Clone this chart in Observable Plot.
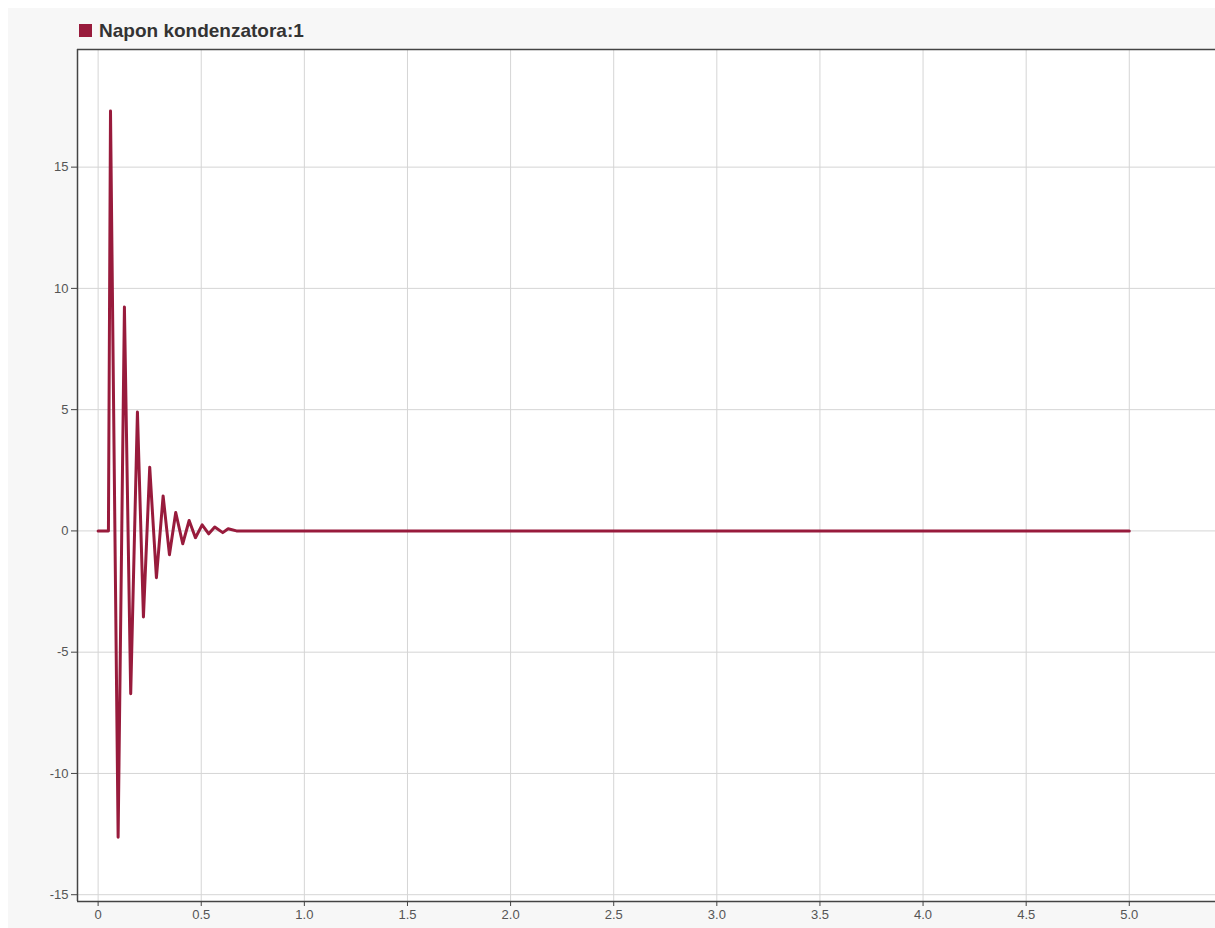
<!DOCTYPE html>
<html>
<head>
<meta charset="utf-8">
<script src="https://cdn.jsdelivr.net/npm/d3@7"></script>
<script src="https://cdn.jsdelivr.net/npm/@observablehq/plot@0.6"></script>
<style>
  html, body { margin: 0; padding: 0; background: #ffffff; overflow: hidden; }
  #wrap { position: relative; width: 1215px; height: 928px; }
  #panel { position: absolute; left: 8px; top: 8px; right: 0; bottom: 0; background: #f7f7f7; }
  #chart { position: absolute; left: 0; top: 0; }
  #legend { position: absolute; left: 79px; top: 21px; display: flex; align-items: center;
            font-family: "Liberation Sans", Arial, sans-serif; font-weight: bold; font-size: 19px;
            line-height: 19px; color: #333; }
  #legend .sw { width: 13px; height: 13px; margin-right: 7px; }
</style>
</head>
<body>
<div id="wrap">
  <div id="panel"></div>
  <div id="chart"></div>
  <div id="legend"><span class="sw"></span><span id="ltext"></span></div>
</div>
<script>
// ---- data ----
const seriesName = "Napon kondenzatora:1";
const times    = [0, 0.05, 0.06, 0.097, 0.1275, 0.158, 0.1906, 0.2197, 0.2502, 0.2827, 0.3152, 0.3458, 0.3763, 0.4103, 0.4413, 0.4719, 0.5044, 0.5364, 0.5655, 0.6043, 0.6305, 0.6707, 5.0];
const voltages = [0, 0, 17.31, -12.63, 9.23, -6.71, 4.90, -3.55, 2.63, -1.93, 1.44, -0.98, 0.76, -0.53, 0.43, -0.28, 0.25, -0.12, 0.16, -0.07, 0.09, 0, 0];
const xTicks = [0, 0.5, 1.0, 1.5, 2.0, 2.5, 3.0, 3.5, 4.0, 4.5, 5.0];
const yTicks = [-15, -10, -5, 0, 5, 10, 15];
const xDomain = [-0.1, 5.418];
const yDomain = [-15.28, 19.85];
const lineColor = "#981b3c";

const data = times.map((t, i) => ({t, v: voltages[i]}));

document.querySelector("#legend .sw").style.background = lineColor;
document.getElementById("ltext").textContent = seriesName;

const chart = Plot.plot({
  width: 1215,
  height: 928,
  marginLeft: 77,
  marginRight: 0,
  marginTop: 49,
  marginBottom: 27,
  style: {background: "transparent", fontFamily: "'Liberation Sans', Arial, sans-serif", fontSize: "13px", color: "#444"},
  x: {domain: xDomain},
  y: {domain: yDomain},
  marks: [
    Plot.frame({fill: "white", stroke: "none"}),
    Plot.ruleX(xTicks, {stroke: "#d5d5d5", strokeWidth: 1}),
    Plot.ruleY(yTicks, {stroke: "#d5d5d5", strokeWidth: 1}),
    Plot.line(data, {x: "t", y: "v", stroke: lineColor, strokeWidth: 3}),
    Plot.ruleX([xDomain[0]], {stroke: "#444", strokeWidth: 1.5}),
    Plot.ruleY(yDomain, {stroke: "#444", strokeWidth: 1.5}),
    Plot.axisX({ticks: xTicks, tickFormat: d => d === 0 ? "0" : d.toFixed(1), tickSize: 5, tickPadding: 3, label: null, fill: "#555", fontSize: 13}),
    Plot.axisY({ticks: yTicks, tickFormat: d => String(d), tickSize: 6, tickPadding: 3, label: null, fill: "#555", fontSize: 13})
  ]
});
document.getElementById("chart").appendChild(chart);
</script>
</body>
</html>
